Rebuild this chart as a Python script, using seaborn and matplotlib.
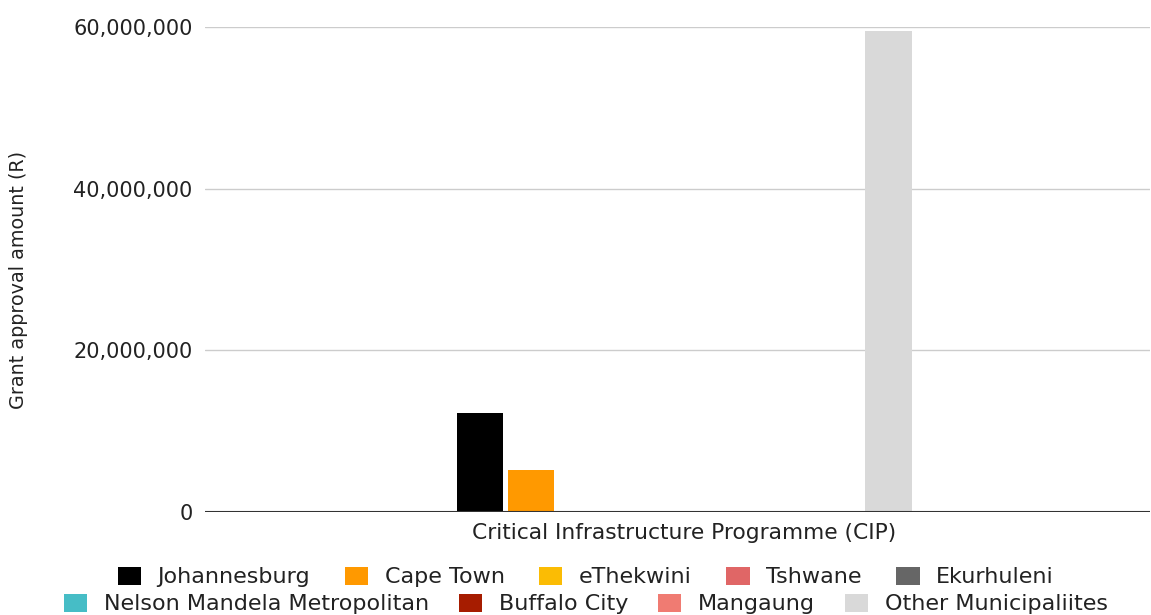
import matplotlib
matplotlib.use("Agg")
import matplotlib.pyplot as plt
from matplotlib.patches import Patch
from matplotlib.ticker import FuncFormatter
import seaborn as sns
import pandas as pd

# Grant approvals per municipality for the programme
programme = ["Critical Infrastructure Programme (CIP)"]
municipalities = [
    "Johannesburg", "Cape Town", "eThekwini", "Tshwane", "Ekurhuleni",
    "Nelson Mandela Metropolitan", "Buffalo City", "Mangaung", "Other Municipaliites",
]
amounts = [12_250_000, 5_200_000, 0, 0, 0, 0, 0, 0, 59_450_000]
colors = ["#000000", "#ff9900", "#fbbc04", "#e06666", "#666666",
          "#46bdc6", "#a61c00", "#f07b72", "#d9d9d9"]
y_ticks = [0, 20_000_000, 40_000_000, 60_000_000]

df = pd.DataFrame({
    "programme": programme * len(municipalities),
    "municipality": municipalities,
    "amount": amounts,
})

sns.set_theme(style="white")
plt.rcParams["font.family"] = ["DejaVu Sans"]

fig = plt.figure(figsize=(11.51, 6.15), dpi=100)
ax = fig.add_axes([205 / 1151, 1 - 512 / 615, 945 / 1151, 485 / 615])

palette = dict(zip(municipalities, colors))
sns.barplot(data=df, x="programme", y="amount", hue="municipality",
            hue_order=municipalities, palette=palette, width=0.486, gap=0.08,
            linewidth=0, saturation=1, legend=False, ax=ax)

ax.set_xlim(-0.507, 0.493)
ax.set_ylim(0, 60_000_000)
ax.set_yticks(y_ticks)
ax.yaxis.set_major_formatter(FuncFormatter(lambda v, _: f"{int(v):,}"))
ax.grid(axis="y", color="#cccccc", linewidth=1.0)
ax.set_axisbelow(True)
ax.axhline(0, color="#333333", linewidth=1.5, zorder=3)
for s in ax.spines.values():
    s.set_visible(False)

ax.tick_params(axis="y", length=0, pad=9, labelsize=15, labelcolor="#222222")
ax.tick_params(axis="x", length=0, pad=8, labelsize=15.7, labelcolor="#222222")
ax.set_xlabel("")
ax.set_ylabel("Grant approval amount (R)", fontsize=13.8, color="#222222")
ax.yaxis.set_label_coords(-0.187, 0.478)

handles = [Patch(facecolor=c, edgecolor="none", label=m)
           for m, c in zip(municipalities, colors)]
common = dict(loc="center", frameon=False, fontsize=16, handlelength=1.05,
              handleheight=0.9, handletextpad=0.75,
              borderpad=0, labelcolor="#222222")
fig.legend(handles=handles[:5], ncol=5, columnspacing=1.55,
           bbox_to_anchor=(0.509, 1 - 577 / 615), **common)
fig.legend(handles=handles[5:], ncol=4, columnspacing=1.35,
           bbox_to_anchor=(0.509, 1 - 604 / 615), **common)

fig.savefig("out.png", dpi=100)
